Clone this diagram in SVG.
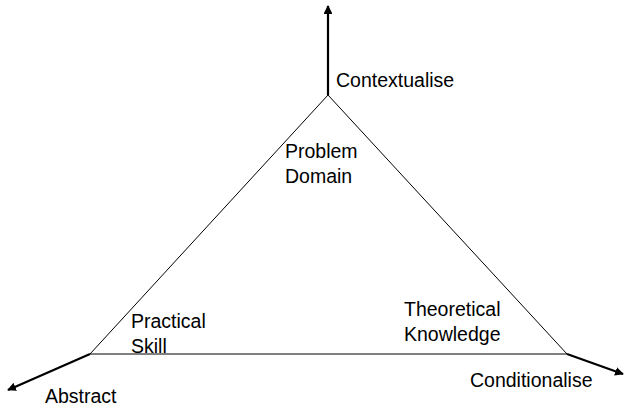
<svg xmlns="http://www.w3.org/2000/svg" width="624" height="409" viewBox="0 0 624 409">
<style>
.t{font-family:"Liberation Sans",Arial,sans-serif;font-size:19.5px;fill:#000}
.tri{fill:none;stroke:#000;stroke-width:1}
.ax{stroke:#000;stroke-width:2.2;fill:none}
</style>
<defs>
<marker id="ah" viewBox="0 0 10 10" refX="9" refY="5" markerWidth="4" markerHeight="4" orient="auto" markerUnits="strokeWidth">
<path d="M0,0 L10,5 L0,10 z" fill="#000"/>
</marker>
</defs>
<rect width="624" height="409" fill="#fff"/>
<g id="connectors">
<polygon class="tri" points="328,95 90,354 567,354"/>
<line class="ax" x1="328" y1="95" x2="328" y2="6" marker-end="url(#ah)"/>
<line class="ax" x1="90" y1="354" x2="8" y2="390" marker-end="url(#ah)"/>
<line class="ax" x1="567" y1="354" x2="623" y2="374" marker-end="url(#ah)"/>
</g>
<g id="contextualise"><text class="t" x="336" y="87">Contextualise</text></g>
<g id="abstract"><text class="t" x="45" y="403">Abstract</text></g>
<g id="conditionalise"><text class="t" x="470" y="387">Conditionalise</text></g>
<g id="problem-domain"><text class="t" x="285" y="158">Problem</text><text class="t" x="285" y="183">Domain</text></g>
<g id="practical-skill"><text class="t" x="131" y="328">Practical</text><text class="t" x="131" y="353">Skill</text></g>
<g id="theoretical-knowledge"><text class="t" x="404" y="316">Theoretical</text><text class="t" x="404" y="341">Knowledge</text></g>
</svg>
